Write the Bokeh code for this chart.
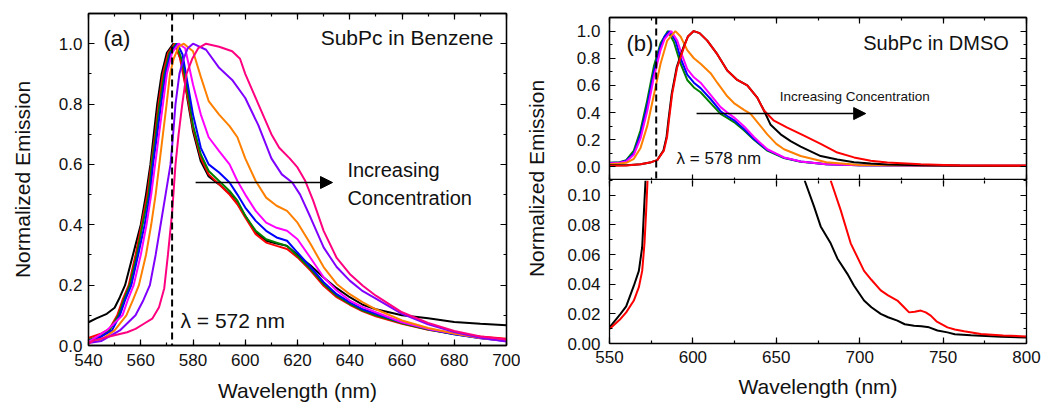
from bokeh.plotting import figure
from bokeh.models import (Range1d, LinearAxis, SingleIntervalTicker, PrintfTickFormatter,
                          Span, Label, Arrow, NormalHead)
from bokeh.layouts import row, column
from bokeh.embed import file_html
from bokeh.resources import INLINE

FONT = "Liberation Sans"
TXT = "#111111"

# ---------------- (a) SubPc in benzene: normalized emission spectra ----------------
A_BLACK_NM = [540, 543, 547, 550, 552, 554, 557, 560, 562, 563.7, 565, 566.3, 568, 570, 572.5, 574, 576, 578,
              580, 583, 586, 590, 594, 597, 600, 604, 608, 612, 616, 620, 625, 630, 635, 640, 645, 650, 660,
              670, 680, 690, 700]
A_BLACK = [0.077, 0.09, 0.105, 0.125, 0.16, 0.2, 0.3, 0.4, 0.5, 0.6, 0.7, 0.8, 0.9, 0.97, 1.0, 0.98, 0.93, 0.81,
           0.71, 0.61, 0.56, 0.534, 0.503, 0.47, 0.43, 0.374, 0.347, 0.338, 0.33, 0.30, 0.265, 0.225, 0.19, 0.16,
           0.135, 0.12, 0.1, 0.09, 0.078, 0.072, 0.067]

A_RED_NM = [540, 545, 548, 551, 553, 555.4, 558, 560.3, 562.5, 564, 565.5, 566.8, 568.5, 570.5, 573, 575, 578, 580,
            583, 586, 590, 594, 597, 600, 604, 608, 612, 616, 620, 625, 630, 635, 640, 645, 650, 660, 670, 680,
            690, 700]
A_RED = [0.025, 0.04, 0.055, 0.1, 0.15, 0.2, 0.3, 0.4, 0.5, 0.6, 0.7, 0.8, 0.9, 0.97, 1.0, 0.953, 0.82, 0.72,
         0.622, 0.567, 0.534, 0.5, 0.468, 0.424, 0.369, 0.341, 0.33, 0.32, 0.292, 0.248, 0.198, 0.16, 0.135, 0.113,
         0.097, 0.072, 0.052, 0.039, 0.03, 0.022]

A_GREEN_NM = [540, 545, 548, 551.5, 553.5, 555.8, 558.5, 560.7, 563, 564.2, 565.8, 567.2, 569, 571, 573.5, 576,
              578, 580, 583, 586, 590, 594, 597, 600, 604, 608, 612, 616, 620, 625, 630, 635, 640, 645, 650, 660,
              670, 680, 690, 700]
A_GREEN = [0.018, 0.032, 0.05, 0.1, 0.15, 0.2, 0.3, 0.4, 0.5, 0.6, 0.7, 0.8, 0.9, 0.97, 1.0, 0.94, 0.84, 0.73,
           0.633, 0.578, 0.545, 0.512, 0.48, 0.43, 0.38, 0.352, 0.341, 0.33, 0.297, 0.253, 0.204, 0.165, 0.138,
           0.116, 0.1, 0.074, 0.053, 0.037, 0.025, 0.017]

A_BLUE_NM = [540, 545, 549, 552, 554, 556.4, 559, 561.5, 563.5, 564.7, 566.3, 567.8, 569.5, 571.5, 574, 576, 578,
             580, 583, 586, 590, 594, 597, 600, 604, 608, 612, 616, 620, 625, 630, 635, 640, 645, 650, 660, 670,
             680, 690, 700]
A_BLUE = [0.015, 0.03, 0.05, 0.1, 0.15, 0.2, 0.3, 0.4, 0.5, 0.6, 0.7, 0.8, 0.9, 0.97, 1.0, 0.964, 0.865, 0.765,
          0.655, 0.6, 0.573, 0.54, 0.5, 0.457, 0.413, 0.38, 0.358, 0.347, 0.308, 0.26, 0.21, 0.17, 0.143, 0.12,
          0.105, 0.077, 0.055, 0.037, 0.024, 0.015]

A_MAGENTA_NM = [540, 547, 553, 555, 557.3, 560, 562.2, 564, 565.5, 567, 568.5, 570, 572, 574.5, 577, 580, 583, 586,
                590, 594, 597, 600, 604, 608, 612, 616, 620, 625, 630, 635, 640, 645, 650, 660, 670, 680, 690, 700]
A_MAGENTA = [0.012, 0.05, 0.1, 0.15, 0.2, 0.3, 0.4, 0.5, 0.6, 0.7, 0.8, 0.9, 0.97, 1.0, 0.985, 0.865, 0.765, 0.69,
             0.644, 0.6, 0.545, 0.5, 0.446, 0.407, 0.39, 0.38, 0.352, 0.29, 0.226, 0.182, 0.149, 0.127, 0.11, 0.077,
             0.055, 0.04, 0.026, 0.016]

A_ORANGE_NM = [540, 545, 550, 554.5, 557, 559.3, 562, 564, 565.7, 567.1, 568.5, 569.9, 571.2, 572.6, 574.5, 576.5,
               580, 583, 586, 590, 594, 597, 600, 604, 608, 612, 616, 620, 625, 630, 635, 640, 645, 650, 660, 670,
               680, 690, 700]
A_ORANGE = [0.01, 0.02, 0.05, 0.1, 0.15, 0.2, 0.3, 0.4, 0.5, 0.6, 0.7, 0.8, 0.9, 0.95, 0.99, 1.0, 0.975, 0.89, 0.81,
            0.765, 0.727, 0.69, 0.62, 0.545, 0.49, 0.463, 0.446, 0.407, 0.336, 0.26, 0.204, 0.17, 0.143, 0.12,
            0.083, 0.058, 0.04, 0.025, 0.016]

A_VIOLET_NM = [540, 545, 552, 558, 561, 563.5, 565.7, 567.6, 569.5, 571.4, 572.4, 573.3, 574.8, 576.4, 578, 580,
               585, 590, 595, 600, 605, 610, 614, 618, 621, 625, 630, 635, 640, 645, 650, 660, 670, 680, 690, 700]
A_VIOLET = [0.008, 0.015, 0.05, 0.1, 0.15, 0.2, 0.3, 0.4, 0.5, 0.6, 0.7, 0.8, 0.9, 0.95, 0.985, 1.0, 0.98, 0.92,
            0.88, 0.82, 0.73, 0.62, 0.567, 0.54, 0.5, 0.424, 0.325, 0.26, 0.215, 0.18, 0.155, 0.105, 0.07, 0.045,
            0.026, 0.013]

A_PINK_NM = [540, 542, 548, 554.8, 558, 561.2, 564.4, 567, 569, 570.4, 572, 573.3, 574.5, 575.9, 577.5, 579.7, 582,
             585, 590, 595, 598, 600, 605, 610, 613, 617, 620, 623, 626, 630, 635, 640, 645, 650, 660, 670, 680,
             690, 700]
A_PINK = [0.006, 0.017, 0.03, 0.044, 0.055, 0.072, 0.089, 0.127, 0.19, 0.3, 0.44, 0.6, 0.7, 0.8, 0.9, 0.95, 0.985,
          1.0, 0.99, 0.975, 0.95, 0.9, 0.8, 0.7, 0.655, 0.62, 0.59, 0.545, 0.48, 0.38, 0.29, 0.237, 0.198, 0.165,
          0.11, 0.075, 0.048, 0.03, 0.02]

LAMBDA_A = 572

# ---------------- (b) SubPc in DMSO: full-scale spectra ----------------
B_GREEN_NM = [550, 556, 560, 564.6, 568.6, 572.6, 576.6, 580.6, 585, 588.6, 592.6, 596.6, 600.6, 604.6, 610.6,
              616.6, 620.6, 624.6, 630.6, 636.6, 640.6, 644.6, 654.6, 664.6, 680, 700, 750, 800]
B_GREEN = [0.03, 0.035, 0.05, 0.12, 0.27, 0.49, 0.74, 0.91, 1.0, 0.92, 0.76, 0.64, 0.585, 0.55, 0.47, 0.39, 0.36,
           0.33, 0.27, 0.2, 0.16, 0.12, 0.065, 0.038, 0.02, 0.013, 0.01, 0.01]

B_BLUE_NM = [550, 556, 560, 564.6, 568.6, 572.6, 576.6, 580.6, 583, 586, 589.6, 592.6, 596.6, 600.6, 604.6, 610.6,
             616.6, 620.6, 624.6, 630.6, 636.6, 640.6, 644.6, 654.6, 664.6, 680, 700, 750, 800]
B_BLUE = [0.028, 0.033, 0.045, 0.1, 0.24, 0.45, 0.7, 0.89, 0.96, 1.0, 0.93, 0.8, 0.68, 0.62, 0.58, 0.5, 0.41, 0.375,
          0.345, 0.28, 0.205, 0.165, 0.125, 0.068, 0.04, 0.02, 0.013, 0.01, 0.01]

B_MAGENTA_NM = [550, 556, 560, 564.6, 568.6, 572.6, 576.6, 580.6, 583, 587, 590.6, 593.6, 596.6, 600.6, 604.6,
                610.6, 616.6, 620.6, 624.6, 630.6, 636.6, 640.6, 644.6, 654.6, 664.6, 680, 700, 750, 800]
B_MAGENTA = [0.025, 0.03, 0.04, 0.09, 0.21, 0.41, 0.66, 0.86, 0.94, 1.0, 0.93, 0.82, 0.72, 0.66, 0.62, 0.53, 0.44,
             0.4, 0.365, 0.3, 0.22, 0.175, 0.13, 0.07, 0.04, 0.02, 0.013, 0.01, 0.01]

B_ORANGE_NM = [550, 556, 560, 564.6, 568.6, 572.6, 576.6, 580.6, 584.6, 589.5, 592.6, 596.6, 600.6, 604.6, 610.6,
               614.6, 620.6, 624.6, 630.6, 634.6, 640.6, 644.6, 650, 654.6, 664.6, 680, 700, 750, 800]
B_ORANGE = [0.02, 0.025, 0.03, 0.06, 0.14, 0.3, 0.53, 0.76, 0.93, 1.0, 0.96, 0.86, 0.8, 0.76, 0.69, 0.62, 0.52,
            0.47, 0.42, 0.39, 0.3, 0.24, 0.17, 0.13, 0.08, 0.035, 0.015, 0.01, 0.01]

B_BLACK_NM = [550, 560, 568.6, 575, 578.6, 582.3, 584.2, 585.3, 587.3, 590.3, 594.3, 597, 600.5, 604, 608.6, 614.6,
              620.6, 626.6, 632.6, 638.6, 642.6, 646.6, 652.6, 658.6, 664.6, 676.6, 686.6, 696.6, 706.6, 716.6,
              736.6, 760, 800]
B_BLACK = [0.012, 0.012, 0.02, 0.035, 0.05, 0.12, 0.22, 0.34, 0.54, 0.735, 0.88, 0.96, 1.0, 0.985, 0.93, 0.83, 0.71,
           0.64, 0.6, 0.51, 0.415, 0.31, 0.24, 0.19, 0.15, 0.08, 0.055, 0.035, 0.025, 0.018, 0.012, 0.008, 0.006]

B_RED_NM = [550, 560, 568.6, 575, 578.6, 582.6, 584.5, 585.6, 587.6, 590.6, 594.6, 597, 600.5, 604, 608.6, 614.6,
            620.6, 626.6, 632.6, 638.6, 642.6, 648.6, 656.6, 666.6, 676.6, 686.6, 696.6, 706.6, 716.6, 736.6, 760,
            800]
B_RED = [0.008, 0.01, 0.02, 0.035, 0.05, 0.12, 0.22, 0.34, 0.54, 0.735, 0.88, 0.96, 1.0, 0.985, 0.93, 0.83, 0.71,
         0.64, 0.6, 0.51, 0.415, 0.34, 0.29, 0.23, 0.17, 0.106, 0.07, 0.045, 0.032, 0.02, 0.01, 0.008]

LAMBDA_B = 578

# ---------------- (b) expanded low-intensity region ----------------
C_BLACK_RISE_NM = [550, 556.6, 560, 564.6, 567.6, 569.6, 570.6, 571.6]
C_BLACK_RISE = [0.0109, 0.02, 0.025, 0.039, 0.049, 0.065, 0.088, 0.11]
C_RED_RISE_NM = [550, 556.6, 560, 564.6, 567.6, 569.6, 571, 572, 572.8]
C_RED_RISE = [0.0098, 0.0166, 0.021, 0.029, 0.038, 0.049, 0.068, 0.09, 0.11]
C_BLACK_TAIL_NM = [667, 672.6, 676.6, 682.6, 686.6, 692.6, 696.6, 702.6, 707, 712.6, 717, 722.6, 727, 732.6, 737,
                   741.6, 746.6, 752.6, 757, 766.6, 772.6, 785, 800]
C_BLACK_TAIL = [0.11, 0.0925, 0.079, 0.0676, 0.0574, 0.047, 0.039, 0.029, 0.0245, 0.02, 0.0177, 0.0154, 0.013,
                0.012, 0.0116, 0.0109, 0.0088, 0.0075, 0.0063, 0.0055, 0.0052, 0.0045, 0.004]
C_RED_TAIL_NM = [682.6, 688.6, 694.6, 702.6, 707, 712.6, 717, 722.6, 726.6, 729.6, 733, 736.6, 739.6, 742.6, 746,
                 752.6, 757, 762.6, 772.6, 786, 800]
C_RED_TAIL = [0.11, 0.09, 0.0676, 0.049, 0.043, 0.0358, 0.0325, 0.029, 0.0245, 0.021, 0.0215, 0.0222, 0.021,
              0.0188, 0.015, 0.0109, 0.0095, 0.0082, 0.0064, 0.0054, 0.0048]

BLACK, RED, GREEN, BLUE = "#000000", "#ff0000", "#008000", "#0000ff"
MAGENTA, ORANGE, VIOLET, PINK = "#ff00ff", "#ff8000", "#8000ff", "#ff0080"


def add_axes(p, x_step, y_step, y_fmt, show_x_labels, show_x_top=True, x_top_line=True):
    """Frame axes on all four sides with inward ticks; labels only where wanted."""
    def make(step, fmt, labels, line=True):
        ax = LinearAxis(ticker=SingleIntervalTicker(interval=step, num_minor_ticks=2))
        ax.major_tick_in, ax.major_tick_out = 6, 0
        ax.minor_tick_in, ax.minor_tick_out = 3, 0
        ax.major_tick_line_width = 1.2
        ax.minor_tick_line_width = 1.2
        ax.major_tick_line_color = "black"
        ax.minor_tick_line_color = "black"
        ax.axis_line_width = 1.3
        ax.axis_line_color = "black" if line else None
        if labels:
            ax.formatter = PrintfTickFormatter(format=fmt)
            ax.major_label_text_font = FONT
            ax.major_label_text_font_size = "17px"
            ax.major_label_text_color = TXT
            ax.axis_label_text_font = FONT
            ax.axis_label_text_font_size = "21px"
            ax.axis_label_text_font_style = "normal"
            ax.axis_label_text_color = TXT
        else:
            # mirror axis: ticks only, no tick labels drawn
            ax.major_label_text_color = None
            ax.major_label_text_alpha = 0
            ax.major_label_text_font_size = "0px"
            ax.major_label_standoff = 0
        return ax

    left = make(y_step, y_fmt, True)
    right = make(y_step, y_fmt, False)
    below = make(x_step, "%d", show_x_labels)
    p.add_layout(left, "left")
    p.add_layout(right, "right")
    p.add_layout(below, "below")
    if show_x_top:
        p.add_layout(make(x_step, "%d", False, line=x_top_line), "above")
    return left, below


def new_fig(w, h, xr, yr, mb):
    p = figure(width=w, height=h, x_range=Range1d(*xr), y_range=Range1d(*yr),
               x_axis_location=None, y_axis_location=None, toolbar_location=None,
               output_backend="svg", min_border_left=mb[0], min_border_right=mb[1],
               min_border_top=mb[2], min_border_bottom=mb[3])
    p.grid.visible = False
    p.outline_line_color = "black"
    p.outline_line_width = 1.3
    p.background_fill_color = "white"
    p.border_fill_color = "white"
    return p


def label(p, x, y, text, size, align="left", **kw):
    p.add_layout(Label(x=x, y=y, text=text, text_font=FONT, text_font_size=size, text_color=TXT,
                       text_align=align, text_baseline="middle", **kw))


def arrow(p, x0, x1, y):
    p.add_layout(Arrow(end=NormalHead(size=12, fill_color="black", line_color="black", line_width=1),
                       x_start=x0, y_start=y, x_end=x1, y_end=y, line_width=1.5, line_color="black"))


# ---- panel (a)
pa = new_fig(520, 404, (540, 700), (0, 1.1), (88, 14, 13, 59))
la, ba = add_axes(pa, 20, 0.2, "%.1f", True)
la.axis_label = "Normalized Emission"
la.major_label_standoff = 6
la.axis_label_standoff = 22
ba.axis_label = "Wavelength (nm)"
ba.major_label_standoff = 8
ba.axis_label_standoff = 10

for nm, val, col in [(A_BLACK_NM, A_BLACK, BLACK), (A_RED_NM, A_RED, RED), (A_GREEN_NM, A_GREEN, GREEN),
                     (A_BLUE_NM, A_BLUE, BLUE), (A_MAGENTA_NM, A_MAGENTA, MAGENTA),
                     (A_ORANGE_NM, A_ORANGE, ORANGE), (A_VIOLET_NM, A_VIOLET, VIOLET),
                     (A_PINK_NM, A_PINK, PINK)]:
    pa.line(nm, val, line_color=col, line_width=2)

pa.add_layout(Span(location=LAMBDA_A, dimension="height", line_color="black", line_width=2, line_dash="7 4"))
label(pa, 545.7, 1.017, "(a)", "22px")
label(pa, 695.0, 1.022, "SubPc in Benzene", "21px", align="right")
label(pa, 639.1, 0.535, "Increasing\nConcentration", "20px", text_line_height=1.3)
arrow(pa, 581.0, 633.4, 0.54)
label(pa, 575.2, 0.083, f"\u03bb = {LAMBDA_A} nm", "21px")

# ---- shared vertical title for panel (b)
pl = figure(width=32, height=404, x_range=Range1d(0, 1), y_range=Range1d(0, 1),
            x_axis_location=None, y_axis_location=None, toolbar_location=None,
            output_backend="svg", min_border=0)
pl.grid.visible = False
pl.outline_line_color = None
pl.add_layout(Label(x=0.5, y=0.503, text="Normalized Emission", text_font=FONT, text_font_size="21px",
                    text_color=TXT, text_align="center", text_baseline="middle", angle=90, angle_units="deg"))

# ---- panel (b), full scale
pb = new_fig(489, 180, (550, 800), (-0.1, 1.1), (57, 15, 17, 0))
lb, bb = add_axes(pb, 50, 0.2, "%.1f", False)
lb.major_label_standoff = 9
for nm, val, col in [(B_GREEN_NM, B_GREEN, GREEN), (B_BLUE_NM, B_BLUE, BLUE),
                     (B_MAGENTA_NM, B_MAGENTA, MAGENTA), (B_ORANGE_NM, B_ORANGE, ORANGE),
                     (B_BLACK_NM, B_BLACK, BLACK), (B_RED_NM, B_RED, RED)]:
    pb.line(nm, val, line_color=col, line_width=2)
pb.add_layout(Span(location=LAMBDA_B, dimension="height", line_color="black", line_width=2, line_dash="7 4"))
label(pb, 560.2, 0.911, "(b)", "22px")
label(pb, 789.4, 0.915, "SubPc in DMSO", "20px", align="right")
label(pb, 652.0, 0.519, "Increasing Concentration", "13.5px")
arrow(pb, 602.2, 703.6, 0.393)
label(pb, 590.2, 0.06, f"\u03bb = {LAMBDA_B} nm", "17px")

# ---- panel (b), expanded low-intensity range
pc = new_fig(489, 224, (550, 800), (0, 0.11), (57, 15, 0, 61))
pc.outline_line_color = None
lc, bc = add_axes(pc, 50, 0.02, "%.2f", True, x_top_line=False)
lc.major_label_standoff = 9
bc.axis_label = "Wavelength (nm)"
bc.major_label_standoff = 7
bc.axis_label_standoff = 9
for nm, val, col in [(C_BLACK_RISE_NM, C_BLACK_RISE, BLACK), (C_RED_RISE_NM, C_RED_RISE, RED),
                     (C_BLACK_TAIL_NM, C_BLACK_TAIL, BLACK), (C_RED_TAIL_NM, C_RED_TAIL, RED)]:
    pc.line(nm, val, line_color=col, line_width=2)

layout = row(pa, pl, column(pb, pc))
open("out.html", "w").write(file_html(layout, INLINE))
